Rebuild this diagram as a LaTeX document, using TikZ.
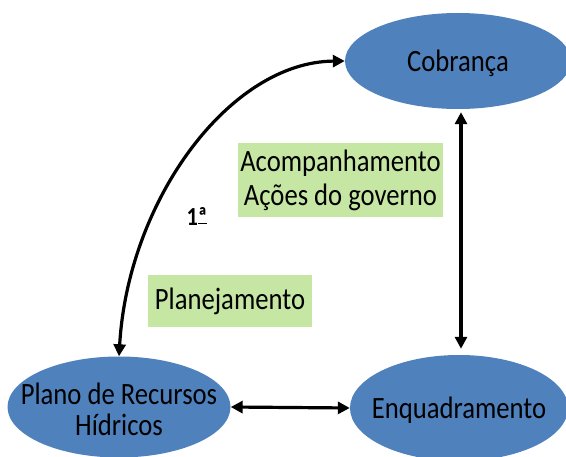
\documentclass[tikz,border=0pt]{standalone}
\usepackage{fontspec}
\setmainfont{Carlito}[FakeStretch=0.86]
\usetikzlibrary{arrows.meta,shapes.geometric}
\definecolor{stageblue}{RGB}{79,129,189}
\definecolor{notegreen}{RGB}{198,230,164}
% text that does not widen the ellipse
\newcommand{\flattext}[1]{\raisebox{-0.33em}[0pt][0pt]{\makebox[0pt]{\begin{tabular}{@{}c@{}}#1\end{tabular}}}}
\tikzset{
  >={Triangle[length=12pt,width=12pt]},
  stage/.style={ellipse,fill=stageblue,text=black,inner sep=0pt,
    font=\fontsize{31}{31}\selectfont},
  notebox/.style={fill=notegreen,text=black,inner sep=0pt,align=center,
    font=\fontsize{31}{34}\selectfont},
  link/.style={<->,line width=3.2pt},
  tag/.style={font=\bfseries\fontsize{26}{26}\selectfont,text=black,inner sep=0pt},
}
\begin{document}
\begin{tikzpicture}[x=1pt,y=-1pt]
  \clip (0,0) rectangle (566,457);
  \node[stage,minimum width=226pt,minimum height=96pt] (cobranca) at (458,61)
    {\flattext{Cobrança}};
  \node[stage,minimum width=218pt,minimum height=106pt] (enquad) at (459,408)
    {\flattext{Enquadramento}};
  \node[stage,minimum width=223pt,minimum height=101pt] (plano) at (119,407)
    {\raisebox{-6pt}{\flattext{Plano de Recursos\\Hídricos}}};
  \node[notebox,minimum width=205pt,minimum height=74pt] (acomp) at (340.5,180)
    {Acompanhamento\\Ações do governo};
  \node[notebox,minimum width=164pt,minimum height=52pt] (planej) at (230,301) {Planejamento};
  \node[tag] (ordem) at (197,217) {1\rlap{ª}\rule[2pt]{0.36em}{1.3pt}};
  \draw[link] (plano.north) .. controls (128,200) and (230,62) .. (cobranca.west);
  \draw[link,shorten <=3pt,shorten >=6pt] ([xshift=3pt]cobranca.south) -- ([xshift=2pt]enquad.north);
  \draw[link] (plano.east) -- (enquad.west);
\end{tikzpicture}
\end{document}
